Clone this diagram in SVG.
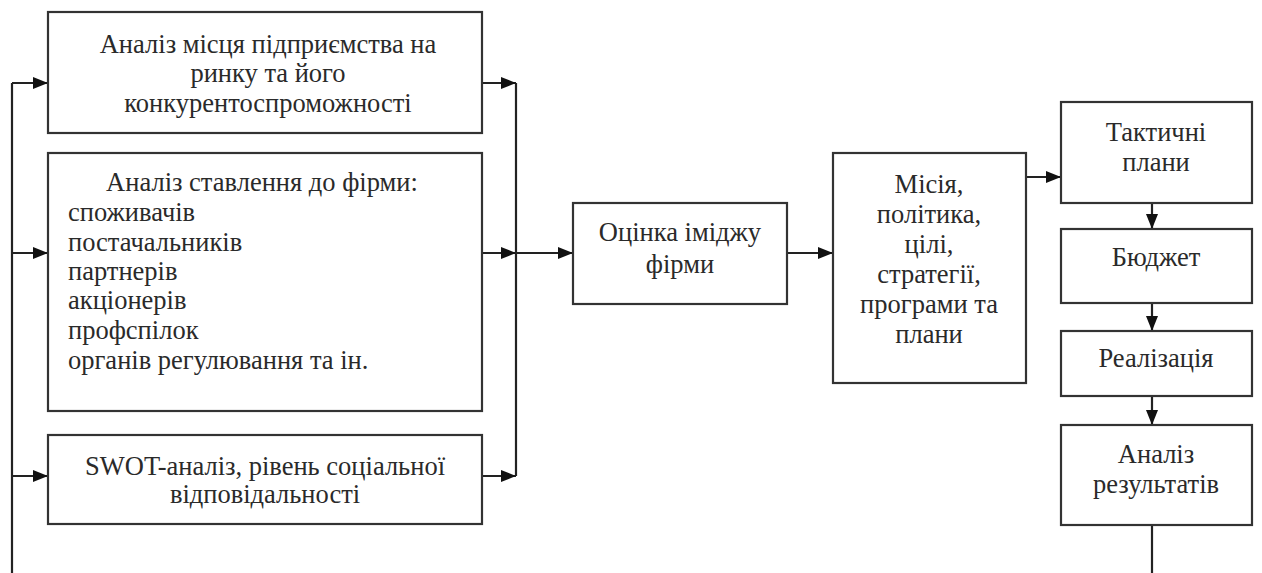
<svg xmlns="http://www.w3.org/2000/svg" width="1262" height="573" viewBox="0 0 1262 573">
<style>
.box{fill:#fff;stroke:#333;stroke-width:2.2}
.t{font-family:"Liberation Serif","Times New Roman",serif;font-size:26.5px;fill:#2a2a2a;text-anchor:middle}
.l{text-anchor:start}
.c{fill:none;stroke:#222;stroke-width:2.2}
</style>
<defs>
<marker id="ah" markerUnits="userSpaceOnUse" markerWidth="16" markerHeight="12" refX="15" refY="6" orient="auto">
<path d="M0,0 L15,6 L0,12 z" fill="#111"/>
</marker>
</defs>
<rect width="1262" height="573" fill="#fff"/>
<g id="connectors">
<path class="c" d="M12,573 V83"/>
<path class="c" d="M12,83 H48" marker-end="url(#ah)"/>
<path class="c" d="M12,253 H48" marker-end="url(#ah)"/>
<path class="c" d="M12,476 H48" marker-end="url(#ah)"/>
<path class="c" d="M516,83 V476"/>
<path class="c" d="M482,83 H516" marker-end="url(#ah)"/>
<path class="c" d="M482,253 H516" marker-end="url(#ah)"/>
<path class="c" d="M482,476 H516" marker-end="url(#ah)"/>
<path class="c" d="M516,253 H573" marker-end="url(#ah)"/>
<path class="c" d="M787,253 H833" marker-end="url(#ah)"/>
<path class="c" d="M1026,177 H1061" marker-end="url(#ah)"/>
<path class="c" d="M1152,203 V229" marker-end="url(#ah)"/>
<path class="c" d="M1152,303 V331" marker-end="url(#ah)"/>
<path class="c" d="M1152,396 V425" marker-end="url(#ah)"/>
<path class="c" d="M1152,525 V573"/>
</g>
<g id="market">
<rect class="box" x="48" y="12" width="434" height="121"/>
<text class="t" x="268" y="53">Аналіз місця підприємства на</text>
<text class="t" x="268" y="82">ринку та його</text>
<text class="t" x="268" y="112">конкурентоспроможності</text>
</g>
<g id="attitude">
<rect class="box" x="48" y="153" width="434" height="258"/>
<text class="t" x="262" y="191">Аналіз ставлення до фірми:</text>
<text class="t l" x="68" y="221">споживачів</text>
<text class="t l" x="68" y="251">постачальників</text>
<text class="t l" x="68" y="280">партнерів</text>
<text class="t l" x="68" y="309">акціонерів</text>
<text class="t l" x="68" y="339">профспілок</text>
<text class="t l" x="68" y="369">органів регулювання та ін.</text>
</g>
<g id="swot">
<rect class="box" x="48" y="435" width="434" height="89"/>
<text class="t" x="265" y="475">SWOT-аналіз, рівень соціальної</text>
<text class="t" x="265" y="503">відповідальності</text>
</g>
<g id="image">
<rect class="box" x="573" y="203" width="214" height="101"/>
<text class="t" x="680" y="241">Оцінка іміджу</text>
<text class="t" x="680" y="273">фірми</text>
</g>
<g id="mission">
<rect class="box" x="833" y="153" width="193" height="230"/>
<text class="t" x="929" y="193">Місія,</text>
<text class="t" x="929" y="223">політика,</text>
<text class="t" x="929" y="253">цілі,</text>
<text class="t" x="929" y="283">стратегії,</text>
<text class="t" x="929" y="313">програми та</text>
<text class="t" x="929" y="343">плани</text>
</g>
<g id="tactical">
<rect class="box" x="1061" y="102" width="191" height="101"/>
<text class="t" x="1156" y="141">Тактичні</text>
<text class="t" x="1156" y="171">плани</text>
</g>
<g id="budget">
<rect class="box" x="1061" y="229" width="191" height="74"/>
<text class="t" x="1156" y="266">Бюджет</text>
</g>
<g id="realization">
<rect class="box" x="1061" y="331" width="191" height="65"/>
<text class="t" x="1156" y="367">Реалізація</text>
</g>
<g id="analysis">
<rect class="box" x="1061" y="425" width="191" height="100"/>
<text class="t" x="1156" y="463">Аналіз</text>
<text class="t" x="1156" y="493">результатів</text>
</g>
</svg>
